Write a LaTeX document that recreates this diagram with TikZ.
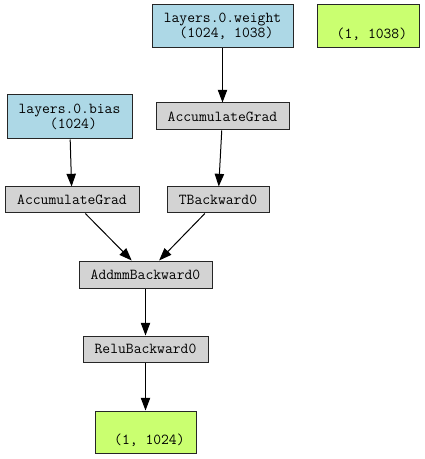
\documentclass[tikz,border=0pt]{standalone}
\usetikzlibrary{arrows.meta}
\definecolor{leafblue}{HTML}{ADD8E6}
\definecolor{outgreen}{HTML}{CAFF70}
\definecolor{opgrey}{HTML}{D3D3D3}
\tikzset{
  gbox/.style={draw=black!85, line width=0.75pt, rectangle, inner sep=0pt, align=center,
    font=\ttfamily\fontsize{11.4}{11.25}\selectfont},
  leafbox/.style={gbox, fill=leafblue},
  outbox/.style={gbox, fill=outgreen},
  opbox/.style={gbox, fill=opgrey},
  edge/.style={draw=black, line width=0.75pt, -{Triangle[length=9.5pt,width=7pt]}}
}
\newcommand{\lsp}{\hphantom{0}}
\begin{document}
\begin{tikzpicture}[x=0.75pt, y=-0.75pt]
\useasboundingbox (0,0) rectangle (424,459);
\node[leafbox, minimum width=105.75pt, minimum height=32.25pt] (w) at (222.5,26.5) {layers.0.weight\\\lsp(1024, 1038)};
\node[outbox, minimum width=76.5pt, minimum height=32.25pt] (o1) at (368,26.5) {\strut\\\lsp(1, 1038)};
\node[opbox, minimum width=99.75pt, minimum height=20.25pt] (ag2) at (222.5,116.5) {AccumulateGrad};
\node[leafbox, minimum width=93.75pt, minimum height=33pt] (b) at (69.5,117) {layers.0.bias\\\lsp(1024)};
\node[opbox, minimum width=100.5pt, minimum height=19.5pt] (ag1) at (72,200) {AccumulateGrad};
\node[opbox, minimum width=76.5pt, minimum height=19.5pt] (tb) at (218,200) {TBackward0};
\node[opbox, minimum width=99.75pt, minimum height=20.25pt] (ad) at (145.5,274.5) {AddmmBackward0};
\node[opbox, minimum width=93.75pt, minimum height=19.5pt] (r) at (145.5,349) {ReluBackward0};
\node[outbox, minimum width=75.75pt, minimum height=31.5pt] (o2) at (145.5,432) {\strut\\\lsp(1, 1024)};
\draw[edge] (w) -- (ag2);
\draw[edge] (b) -- (ag1);
\draw[edge] (ag2) -- (tb);
\draw[edge] (ag1) -- (ad);
\draw[edge] (tb) -- (ad);
\draw[edge] (ad) -- (r);
\draw[edge] (r) -- (o2);
\end{tikzpicture}
\end{document}
